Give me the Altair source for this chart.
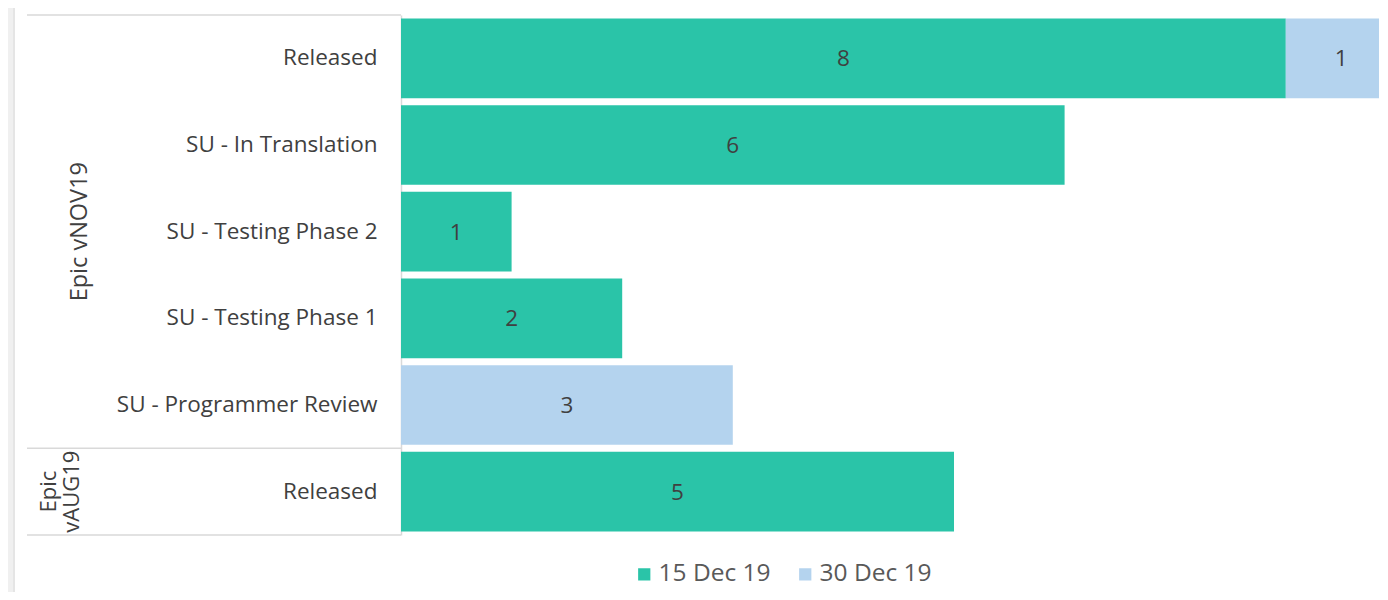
import altair as alt
import pandas as pd

# ---- data ----
groups = ["Epic vNOV19"] * 5 + ["Epic vAUG19"]
statuses = [
    "Released",
    "SU - In Translation",
    "SU - Testing Phase 2",
    "SU - Testing Phase 1",
    "SU - Programmer Review",
    "Released",
]
series_names = ["15 Dec 19", "30 Dec 19"]
dec15 = [8, 6, 1, 2, 0, 5]
dec30 = [1, 0, 0, 0, 3, 0]
group_order = ["Epic vNOV19", "Epic vAUG19"]
group_text = ["Epic vNOV19", "Epic\nvAUG19"]
colors = ["#2AC4A8", "#B4D3EE"]

FONT = "Open Sans"
TXT = "#404040"
LINE = "#d9d9d9"

keys = [f"{g}|{s}" for g, s in zip(groups, statuses)]

rows = []
for i, k in enumerate(keys):
    for j, vals in enumerate([dec15, dec30]):
        if vals[i] > 0:
            rows.append({"key": k, "series": series_names[j], "order": j, "count": vals[i]})
df = pd.DataFrame(rows)

# group label & boundary tables
glab = []
tops = []
for g, t in zip(group_order, group_text):
    idx = [i for i, gg in enumerate(groups) if gg == g]
    glab.append({"group": g, "text": t, "key": keys[idx[len(idx) // 2]]})
    tops.append({"key": keys[idx[0]]})
glab_df = pd.DataFrame(glab)
tops_df = pd.DataFrame(tops)
bottom_df = pd.DataFrame([{"key": keys[-1]}])

W, H = 978, 520
step = H / len(keys)
half_gap = 0.04 * step

yscale = alt.Scale(domain=keys, paddingInner=0.08, paddingOuter=0.04)
xscale = alt.Scale(domain=[0, W / 110.6], nice=False, zero=True)

Y = alt.Y(
    "key:N",
    scale=yscale,
    axis=alt.Axis(
        title=None,
        labelExpr="split(datum.label, '|')[1]",
        ticks=False,
        grid=False,
        labelPadding=24,
        labelFontSize=22.5,
        labelFont=FONT,
        labelColor=TXT,
        labelLimit=400,
        domainColor=LINE,
        domainWidth=1.5,
    ),
)

base = (
    alt.Chart(df)
    .transform_stack(stack="count", groupby=["key"], sort=[alt.SortField("order")], as_=["x0", "x1"])
    .transform_calculate(mid="(datum.x0 + datum.x1) / 2")
)

bars = base.mark_bar(clip=True).encode(
    x=alt.X("x0:Q", scale=xscale, axis=None),
    x2="x1:Q",
    y=Y,
    color=alt.Color(
        "series:N",
        scale=alt.Scale(domain=series_names, range=colors),
        legend=alt.Legend(
            title=None,
            orient="none",
            legendX=231,
            legendY=547,
            direction="horizontal",
            symbolType="square",
            symbolSize=150,
            symbolStrokeWidth=0,
            labelFontSize=24.5,
            labelFont=FONT,
            labelColor="#595959",
            columnPadding=22,
            labelOffset=2,
            padding=0,
        ),
    ),
)

values = base.mark_text(font=FONT, fontSize=22.5, color=TXT, dy=1).encode(
    x=alt.X("mid:Q", scale=xscale, axis=None),
    y=Y,
    text="count:Q",
)

top_rules = alt.Chart(tops_df).mark_rule(color=LINE, strokeWidth=1.5, yOffset=-half_gap).encode(
    y=alt.Y("key:N", scale=yscale, bandPosition=0),
    x=alt.value(-374),
    x2=alt.value(0),
)
bottom_rule = alt.Chart(bottom_df).mark_rule(color=LINE, strokeWidth=1.5, yOffset=half_gap).encode(
    y=alt.Y("key:N", scale=yscale, bandPosition=1),
    x=alt.value(-374),
    x2=alt.value(0),
)

g1 = alt.Chart(glab_df).transform_filter(alt.datum.group == "Epic vNOV19").mark_text(
    font=FONT, fontSize=23.5, color=TXT, angle=270, align="center", baseline="middle", lineBreak="\n"
).encode(y=alt.Y("key:N", scale=yscale), x=alt.value(-321), text="text:N")
g2 = alt.Chart(glab_df).transform_filter(alt.datum.group == "Epic vAUG19").mark_text(
    font=FONT, fontSize=22, color=TXT, angle=270, align="center", baseline="middle",
    lineBreak="\n", lineHeight=23,
).encode(y=alt.Y("key:N", scale=yscale), x=alt.value(-352), text="text:N")

deco_df = pd.DataFrame({"a": [0]})
band = alt.Chart(deco_df).mark_rect(color="#f0f0f0").encode(
    x=alt.value(-393), x2=alt.value(-388), y=alt.value(-7), y2=alt.value(577)
)
edge = alt.Chart(deco_df).mark_rule(color="#dcdcdc", strokeWidth=1.5).encode(
    x=alt.value(-387), y=alt.value(-7), y2=alt.value(577)
)

chart = (
    alt.layer(band, edge, top_rules, bottom_rule, bars, values, g1, g2)
    .properties(
        width=W,
        height=H,
        autosize=alt.AutoSizeParams(type="none"),
        padding={"left": 393, "top": 7, "right": 0, "bottom": 57},
        background="white",
    )
    .configure_view(stroke=None)
)

chart.save("out.html", embed_options={"renderer": "svg", "actions": False})
